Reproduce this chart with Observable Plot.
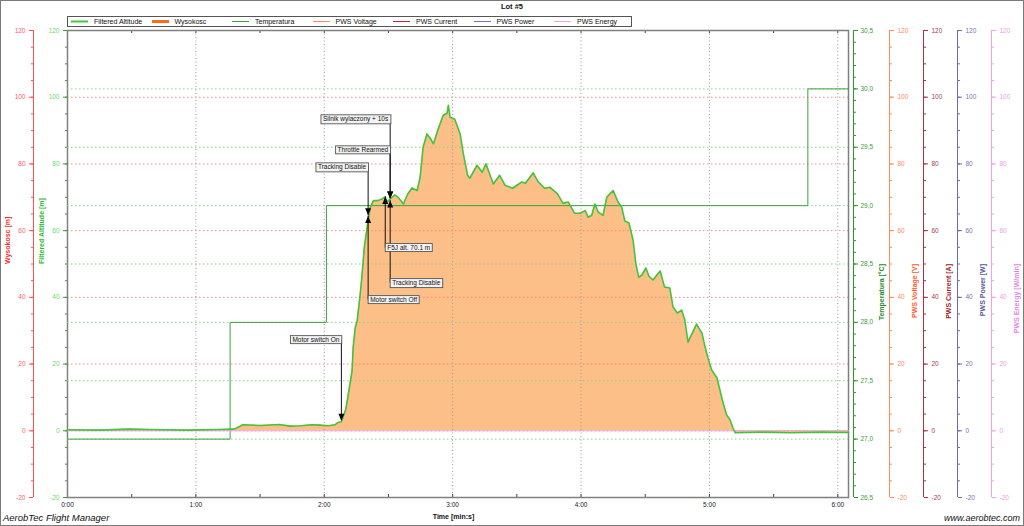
<!DOCTYPE html>
<html>
<head>
<meta charset="utf-8">
<script src="https://cdn.jsdelivr.net/npm/d3@7"></script>
<script src="https://cdn.jsdelivr.net/npm/@observablehq/plot@0.6"></script>
<style>
html,body{margin:0;padding:0;background:#fff;}
#chart{position:relative;width:1024px;height:526px;overflow:hidden;background:#fff;font-family:"Liberation Sans",Arial,sans-serif;}
#chart > svg{position:absolute;left:0;top:0;}
.abs{position:absolute;white-space:nowrap;}
#border{position:absolute;left:0;top:0;width:1022px;height:524px;border:1px solid #7a7a7a;pointer-events:none;}
#title{left:0;width:1024px;top:2px;text-align:center;font-weight:bold;font-size:7.5px;color:#111;}
#legend{left:67px;top:16px;width:563px;height:9px;border:1px solid #555;background:#fff;}
.item{position:absolute;top:0;height:9px;font-size:7px;line-height:9px;color:#111;}
.item svg{position:absolute;left:0;top:0;}
#xlabel{left:0;width:907px;top:513px;text-align:center;font-weight:bold;font-size:7px;color:#111;}
#brand{left:3px;top:512px;font-style:italic;font-size:9.5px;color:#111;}
#site{right:4px;top:513px;font-style:italic;font-size:9px;color:#111;}
</style>
</head>
<body>
<div id="chart"></div>
<script>
// ---------------- data ----------------
const timeSec = [0, 15, 29, 43, 57, 71, 78, 82, 90, 99, 104, 109, 114, 118, 122, 125, 126.5, 128, 130, 131, 133, 133.5, 134.5, 135.4, 136.8, 137.7, 138.7, 140.5, 141.5, 143, 145, 147, 148.5, 149.4, 150.8, 153, 154.5, 157, 159, 161, 163.4, 164.8, 166.2, 168, 169.5, 171, 173, 175.6, 177.4, 178, 178.8, 181, 183.5, 185, 187, 188, 191.4, 193.8, 195.6, 199, 202, 204.5, 208, 210, 212.4, 214, 217.6, 220, 223, 225.5, 229, 231.6, 234, 237, 239.5, 242, 243.3, 245, 246.5, 248, 250.3, 252, 255, 257.3, 259, 260.5, 262.4, 264.3, 265.7, 267, 268.5, 270.3, 271.7, 273.6, 277, 279, 281.5, 283, 285, 287, 288.5, 290, 292, 294, 296.5, 298, 299.3, 301, 303.5, 306, 308, 309.6, 311, 312, 324, 338, 352, 365];
const altitude = [0.3, 0.2, 0.5, 0.3, 0.2, 0.4, 0.5, 1.8, 1.6, 1.9, 1.4, 1.5, 1.8, 1.7, 1.5, 1.8, 2.5, 2.7, 6.3, 10, 18, 25, 31, 33, 41, 47, 55, 63, 67, 69, 69, 69.5, 70.1, 68.6, 69.5, 70.7, 70, 68, 71, 72.8, 72, 76, 85, 89, 87.7, 86, 90, 94.6, 95.2, 97.6, 94, 93.4, 89, 83, 76.6, 75.7, 79.6, 77.5, 80, 74, 76.6, 73.6, 72.7, 73.6, 74.6, 74.2, 77.3, 74.6, 72.7, 73, 71, 68.2, 68.6, 65.2, 65.2, 66, 64, 64.6, 68, 65.6, 64.6, 70, 72, 68.6, 67, 62.9, 62.3, 57.2, 49.7, 46, 46.7, 48.8, 46.4, 45.2, 47.9, 43.1, 42.8, 37.1, 35.3, 36.2, 33.2, 26.6, 29.3, 32, 29.3, 25.1, 21.9, 18.3, 15.9, 9.3, 4.8, 3.3, 0.9, -0.6, -0.4, -0.6, -0.4, -0.5];

const tempTime = [0, 76, 121, 346, 365];
const temperature = [27.0, 28.0, 29.0, 30.0, 30.0];

const pwsTime = [0, 365];
const pwsEnergy = [0, 0];

const xTicks = [0, 60, 120, 180, 240, 300, 360];
const xMinorTicks = [30, 60, 90, 120, 150, 180, 210, 240, 270, 300, 330, 360];
const altTicks = [-20, 0, 20, 40, 60, 80, 100, 120];
const altMinorTicks = d3.range(-20, 121, 5);
const tempTicks = [26.5, 27.0, 27.5, 28.0, 28.5, 29.0, 29.5, 30.0, 30.5];
const tempMinorTicks = d3.range(265, 306, 1).map(v => v / 10);

const eventTime = [128, 140.5, 140.5, 150.8, 150.8, 148.5, 150.8];
const eventAltitude = [3, 64.6, 64.4, 69.6, 69.6, 70.1, 69.0];
const eventLabel = ["Motor switch On", "Tracking Disable", "Motor switch Off", "Throttle Rearmed", "Silnik wylaczony + 10s", "F5J alt. 70.1 m", "Tracking Disable"];
const eventLabelAltitude = [27.2, 79, 39.2, 84.1, 93.4, 54.8, 44.3];
const eventDirection = ["down", "down", "up", "down", "down", "up", "up"];

const seriesNames = ["Filtered Altitude", "Wysokosc", "Temperatura", "PWS Voltage", "PWS Current", "PWS Power", "PWS Energy"];

// ---------------- styles ----------------
const seriesColors = ["#3ec93a", "#ff6a1a", "#3aa43a", "#ff8a64", "#b0303e", "#7272bc", "#f0a0f0"];
const seriesWidths = [2, 3, 1, 1, 1, 1, 1];
const FONT = "'Liberation Sans', Arial, sans-serif";

// ---------------- build tables ----------------
const altData = timeSec.map((t, i) => ({t, alt: altitude[i]}));
const tempData = tempTime.map((t, i) => ({t, temp: temperature[i]}));
const pwsData = pwsTime.map((t, i) => ({t, v: pwsEnergy[i]}));
const events = eventTime.map((t, i) => ({t, tip: eventAltitude[i], label: eventLabel[i], labelAlt: eventLabelAltitude[i], dir: eventDirection[i]}));

const fmtTime = s => Math.floor(s / 60) + ":" + String(Math.round(s % 60)).padStart(2, "0");
const fmtInt = d => String(d);
const fmtTemp = d => d.toFixed(1).replace(".", ",");

const W = 1024, H = 526;
const frame = {width: W, height: H, marginLeft: 67, marginRight: 176, marginTop: 30, marginBottom: 29};
const baseStyle = {background: "transparent", fontFamily: FONT, fontSize: "6.5px", overflow: "visible"};

const triDown = {draw(c) { c.moveTo(0, 0); c.lineTo(-3, -7); c.lineTo(3, -7); c.closePath(); }};
const triUp = {draw(c) { c.moveTo(0, 0); c.lineTo(-3, 7); c.lineTo(3, 7); c.closePath(); }};

function yAxis(opts) {
  const {anchor = "left", dx = 0, stroke, fill, ticks = altTicks, minor = altMinorTicks, fmt = fmtInt, pad = 3} = opts;
  return [
    Plot.axisY({anchor, dx, ticks, tickSize: 4, tickPadding: pad, tickFormat: fmt, stroke, fill, label: null, fontSize: 6.5}),
    Plot.axisY({anchor, dx, ticks: minor, tickSize: 2, tickFormat: () => "", stroke, label: null})
  ];
}
function axisTitle(text, anchor, dx, fill) {
  return Plot.text([text], {text: d => d, frameAnchor: anchor, dx, rotate: -90, fill, fontWeight: "bold", fontSize: 7});
}

// ---------------- plot A: area, grid, axes ----------------
const plotA = Plot.plot({
  ...frame,
  style: baseStyle,
  x: {domain: [0, 365]},
  y: {domain: [-20, 120]},
  marks: [
    Plot.areaY(altData, {x: "t", y: "alt", fill: "#fdbf88"}),
    Plot.ruleX(xTicks.slice(1), {stroke: "#999", strokeDasharray: "1,2.5"}),
    Plot.ruleY(altTicks.slice(1, -1), {stroke: "#ff7a7a", strokeDasharray: "1.5,2.5", strokeOpacity: 0.9}),
    Plot.ruleX(xMinorTicks, {y1: 120, y2: 119.1, stroke: "#444"}),
    Plot.ruleX(xMinorTicks, {y1: -20, y2: -19.1, stroke: "#444"}),
    Plot.axisX({ticks: xTicks, tickFormat: fmtTime, tickSize: 0, tickPadding: 5, label: null, fill: "#222", fontSize: 6.5}),
    // Filtered Altitude axis (plot left edge)
    ...yAxis({stroke: "#2f9f2f", fill: "#66dd66", pad: 4}),
    axisTitle("Filtered Altitude [m]", "left", -26, "#2fb52f"),
    // Wysokosc axis
    Plot.ruleX([0], {dx: -34, stroke: "#ff5050"}),
    ...yAxis({dx: -34, stroke: "#ff5050", fill: "#ff6060", pad: 4}),
    axisTitle("Wysokosc [m]", "left", -60, "#ff3030"),
    // PWS Voltage
    Plot.ruleX([365], {dx: 41, stroke: "#ff8a5a"}),
    ...yAxis({anchor: "right", dx: 41, stroke: "#ff8a5a", fill: "#ff8a5a", pad: 4}),
    axisTitle("PWS Voltage [V]", "right", 66, "#ff5a28"),
    // PWS Current
    Plot.ruleX([365], {dx: 75, stroke: "#b03040"}),
    ...yAxis({anchor: "right", dx: 75, stroke: "#b03040", fill: "#a8404c", pad: 4}),
    axisTitle("PWS Current [A]", "right", 100, "#a01828"),
    // PWS Power
    Plot.ruleX([365], {dx: 109, stroke: "#6a6ab2"}),
    ...yAxis({anchor: "right", dx: 109, stroke: "#6a6ab2", fill: "#7474b4", pad: 4}),
    axisTitle("PWS Power [W]", "right", 134, "#5656a4"),
    // PWS Energy
    Plot.ruleX([365], {dx: 143, stroke: "#f0a0f0"}),
    ...yAxis({anchor: "right", dx: 143, stroke: "#f0a0f0", fill: "#f09af0", pad: 4}),
    axisTitle("PWS Energy [W/min]", "right", 168, "#e484e4"),
    Plot.frame({stroke: "#808080", strokeWidth: 1.5})
  ]
});

// ---------------- plot B: temperature ----------------
const plotB = Plot.plot({
  ...frame,
  style: baseStyle,
  x: {domain: [0, 365], axis: null},
  y: {domain: [26.5, 30.5]},
  marks: [
    Plot.ruleY(tempTicks.slice(1, -1), {stroke: "#8fce8f", strokeDasharray: "1.5,2.5"}),
    Plot.line(tempData, {x: "t", y: "temp", curve: "step-after", stroke: "#3aa43a", strokeWidth: 1}),
    Plot.ruleX([365], {dx: 5, stroke: "#2e962e"}),
    ...yAxis({anchor: "right", dx: 5, stroke: "#2e962e", fill: "#3a9c3a", ticks: tempTicks, minor: tempMinorTicks, fmt: fmtTemp, pad: 3}),
    axisTitle("Temperatura [°C]", "right", 33, "#2a8a2a")
  ]
});

// ---------------- plot C: altitude line, events ----------------
const plotC = Plot.plot({
  ...frame,
  style: baseStyle,
  x: {domain: [0, 365], axis: null},
  y: {domain: [-20, 120], axis: null},
  marks: [
    Plot.line(pwsData, {x: "t", y: "v", stroke: "#e8a8e8", strokeWidth: 1}),
    Plot.line(altData, {x: "t", y: "alt", stroke: "#44c23a", strokeWidth: 1.6}),
    Plot.ruleX(events, {x: "t", y1: "labelAlt", y2: "tip", stroke: "#111", strokeWidth: 1}),
    Plot.dot(events.filter(d => d.dir === "down"), {x: "t", y: "tip", symbol: triDown, r: 3, fill: "#000", stroke: "none"}),
    Plot.dot(events.filter(d => d.dir === "up"), {x: "t", y: "tip", symbol: triUp, r: 3, fill: "#000", stroke: "none"}),
    Plot.text(events.filter(d => d.dir === "down"), {x: "t", y: "labelAlt", text: "label", textAnchor: "end", dx: -2, fill: "#111", fontSize: 6.5}),
    Plot.text(events.filter(d => d.dir === "up"), {x: "t", y: "labelAlt", text: "label", textAnchor: "start", dx: 2, fill: "#111", fontSize: 6.5})
  ]
});

const chart = document.getElementById("chart");
chart.appendChild(plotA);
chart.appendChild(plotB);
chart.appendChild(plotC);

// boxes behind annotation labels
plotC.querySelectorAll("text").forEach(t => {
  const b = t.getBBox();
  const r = document.createElementNS("http://www.w3.org/2000/svg", "rect");
  r.setAttribute("x", b.x - 2);
  r.setAttribute("y", b.y - 0.5);
  r.setAttribute("width", b.width + 4);
  r.setAttribute("height", b.height + 1);
  r.setAttribute("fill", "#f3f3f3");
  r.setAttribute("stroke", "#555");
  r.setAttribute("stroke-width", "0.9");
  const tr = t.getAttribute("transform");
  if (tr) r.setAttribute("transform", tr);
  t.parentNode.insertBefore(r, t);
});

// HTML texts: title, legend, footer
function addDiv(id, text) {
  const d = document.createElement("div");
  d.id = id; d.className = "abs"; if (text) d.textContent = text;
  chart.appendChild(d); return d;
}
addDiv("title", "Lot #5");
const legend = addDiv("legend");
const NS = "http://www.w3.org/2000/svg";
seriesNames.forEach((name, i) => {
  const it = document.createElement("div");
  it.className = "item";
  it.style.left = (3 + i * 80.5) + "px";
  it.style.width = "80px";
  const s = document.createElementNS(NS, "svg");
  s.setAttribute("width", "18");
  s.setAttribute("height", "9");
  const ln = document.createElementNS(NS, "line");
  ln.setAttribute("x1", "0"); ln.setAttribute("x2", "17");
  ln.setAttribute("y1", "4.5"); ln.setAttribute("y2", "4.5");
  ln.setAttribute("stroke", seriesColors[i]);
  ln.setAttribute("stroke-width", seriesWidths[i]);
  s.appendChild(ln);
  it.appendChild(s);
  const tx = document.createElement("span");
  tx.style.position = "absolute";
  tx.style.left = "23px";
  tx.textContent = name;
  it.appendChild(tx);
  legend.appendChild(it);
});
addDiv("xlabel", "Time [min:s]");
addDiv("brand", "AerobTec Flight Manager");
addDiv("site", "www.aerobtec.com");
addDiv("border");
</script>
</body>
</html>
